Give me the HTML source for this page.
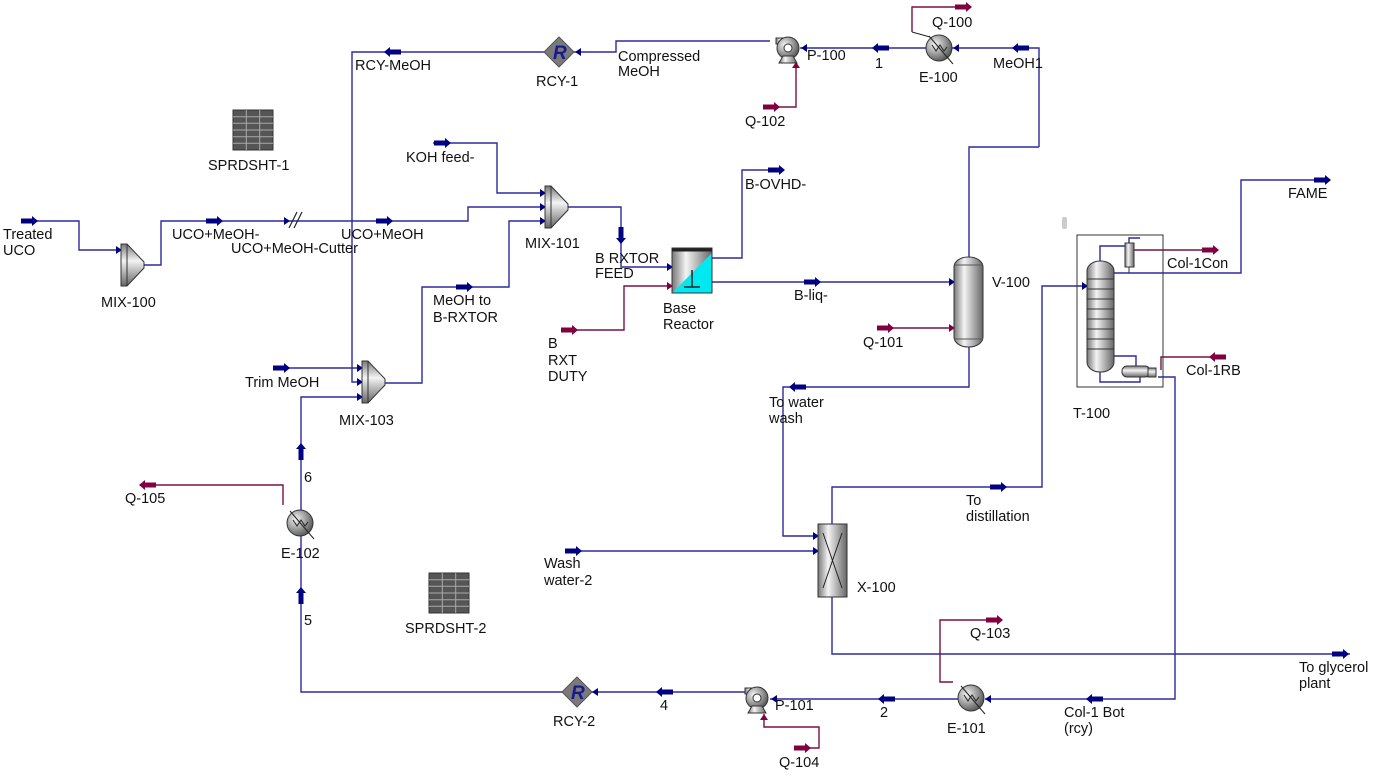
<!DOCTYPE html>
<html><head><meta charset="utf-8"><style>
html,body{margin:0;padding:0;background:#fff;}
svg{display:block;}
text{font-family:"Liberation Sans",sans-serif;font-size:14.5px;fill:#111;}
.s{fill:none;stroke:#2b2ba0;stroke-width:1.4;}
.e{fill:none;stroke:#7a1040;stroke-width:1.4;}
</style></head><body>
<svg width="1388" height="777" viewBox="0 0 1388 777" xmlns="http://www.w3.org/2000/svg">
<defs>
<symbol id="ab" overflow="visible"><path d="M-8,-2.5 H3 V-5 L9,0 L3,5 V2.5 H-8 Z" fill="#000080"/></symbol>
<symbol id="ar" overflow="visible"><path d="M-8,-2.5 H3 V-5 L9,0 L3,5 V2.5 H-8 Z" fill="#800040"/></symbol>
<symbol id="tip" overflow="visible"><path d="M-5,-4 L1,0 L-5,4 Z" fill="#000080"/></symbol>
<symbol id="tipr" overflow="visible"><path d="M-5,-4 L1,0 L-5,4 Z" fill="#800040"/></symbol>
<linearGradient id="gh" x1="0" x2="1" y1="0" y2="0"><stop offset="0" stop-color="#777"/><stop offset="0.35" stop-color="#f4f4f4"/><stop offset="1" stop-color="#666"/></linearGradient>
<linearGradient id="gv" x1="0" x2="0" y1="0" y2="1"><stop offset="0" stop-color="#777"/><stop offset="0.4" stop-color="#f4f4f4"/><stop offset="1" stop-color="#666"/></linearGradient>
<radialGradient id="gr" cx="0.35" cy="0.35" r="0.7"><stop offset="0" stop-color="#f4f4f4"/><stop offset="1" stop-color="#555"/></radialGradient>
<symbol id="mix" overflow="visible"><path d="M0,0 H6 L23,18 V24 L6,42 H0 Z" fill="url(#gv)" stroke="#333" stroke-width="1"/><line x1="6" y1="0" x2="6" y2="42" stroke="#333"/></symbol>
<symbol id="hx" overflow="visible"><circle r="13" fill="url(#gr)" stroke="#333"/><path d="M-7,-3 L-3,3 L1,-3 L5,3 L8,-1" fill="none" stroke="#222"/><line x1="-10" y1="-12" x2="14" y2="16" stroke="#222"/></symbol>
<symbol id="pump" overflow="visible"><path d="M-12,-10 H0 V-4 H-12 Z" fill="url(#gh)" stroke="#333"/><circle r="11" fill="url(#gr)" stroke="#333"/><circle r="4" fill="#fff" stroke="#333"/><path d="M-9,15 L-5,8 H5 L9,15 Z" fill="url(#gh)" stroke="#333"/></symbol>
<symbol id="rcy" overflow="visible"><path d="M0,-15 L15,0 L0,15 L-15,0 Z" fill="#7a7a7a" stroke="#555"/><text x="-6" y="7" style="font-size:19px;font-style:italic;font-weight:bold;fill:#1a1a90">R</text></symbol>
<symbol id="sheet" overflow="visible"><rect width="40" height="40" fill="#555" stroke="#333"/><path d="M0,6.7H40M0,13.3H40M0,20H40M0,26.7H40M0,33.3H40M13.3,0V40M26.7,0V40" stroke="#aaa" stroke-width="1"/></symbol>
</defs>

<!-- ===== streams (blue) ===== -->
<!-- top recycle -->
<polyline class="s" points="1039,147 1039,48 952,48"/>
<polyline class="s" points="926,48 800,48"/>
<polyline class="s" points="770,41 616,41 616,52 574,52"/>
<polyline class="s" points="544,52 352,52 352,382 362,382"/>
<use href="#tip" x="954" y="48" transform="rotate(180 954 48)"/>
<use href="#tip" x="802" y="48" transform="rotate(180 802 48)"/>
<use href="#tip" x="576" y="52" transform="rotate(180 576 52)"/>
<use href="#ab" x="1021" y="48" transform="rotate(180 1021 48)"/>
<use href="#ab" x="881" y="48" transform="rotate(180 881 48)"/>
<use href="#ab" x="393" y="52" transform="rotate(180 393 52)"/>
<polyline class="s" points="1039,147 969,147 969,257"/>

<!-- Treated UCO -->
<polyline class="s" points="22,221 79,221 79,250 121,250"/>
<use href="#ab" x="29" y="221"/><use href="#tip" x="121" y="250"/>
<polyline class="s" points="144,265 161,265 161,221 468,221 468,207 545,207"/>
<use href="#ab" x="214" y="221"/><use href="#ab" x="384" y="221"/><use href="#tip" x="545" y="207"/>
<line x1="289" y1="228" x2="297" y2="212" stroke="#222" stroke-width="1.2"/>
<line x1="294" y1="228" x2="302" y2="212" stroke="#222" stroke-width="1.2"/>
<use href="#tip" x="289" y="221"/>

<!-- KOH feed -->
<polyline class="s" points="433,143 497,143 497,193 545,193"/>
<use href="#ab" x="442" y="143"/><use href="#tip" x="545" y="193"/>
<!-- MeOH to B-RXTOR -->
<polyline class="s" points="384,383 422,383 422,287 509,287 509,221 545,221"/>
<use href="#ab" x="464" y="287"/><use href="#tip" x="545" y="221"/>
<!-- MIX-101 outlet -->
<polyline class="s" points="568,207 621,207 621,267 672,267"/>
<use href="#ab" x="621" y="235" transform="rotate(90 621 235)"/><use href="#tip" x="672" y="267"/>
<!-- Trim MeOH -->
<polyline class="s" points="274,368 362,368"/>
<use href="#ab" x="281" y="368"/><use href="#tip" x="362" y="368"/><use href="#tip" x="362" y="382"/>
<!-- B-OVHD -->
<polyline class="s" points="712,258 742,258 742,170 784,170"/>
<use href="#ab" x="776" y="170"/>
<!-- B-liq -->
<polyline class="s" points="712,282 954,282"/>
<use href="#ab" x="812" y="282"/><use href="#tip" x="954" y="282"/>
<!-- V-100 bottom to water wash -->
<polyline class="s" points="969,347 969,387 783,387 783,536 818,536"/>
<use href="#ab" x="798" y="387" transform="rotate(180 798 387)"/><use href="#tip" x="818" y="536"/>
<!-- Wash water -->
<polyline class="s" points="566,551 818,551"/>
<use href="#ab" x="573" y="551"/><use href="#tip" x="818" y="551"/>
<!-- To distillation -->
<polyline class="s" points="832,524 832,487 1042,487 1042,286 1087,286"/>
<use href="#ab" x="998" y="487"/><use href="#tip" x="1087" y="286"/>
<!-- To glycerol -->
<polyline class="s" points="832,597 832,654 1350,654"/>
<use href="#ab" x="1340" y="654"/>
<!-- FAME -->
<polyline class="s" points="1114,273 1241,273 1241,180 1330,180"/>
<use href="#ab" x="1322" y="180"/>
<!-- Col-1 bot -->
<polyline class="s" points="1158,377 1175,377 1175,699 985,699"/>
<use href="#ab" x="1095" y="699" transform="rotate(180 1095 699)"/><use href="#tip" x="986" y="699" transform="rotate(180 986 699)"/>
<polyline class="s" points="958,699 770,699"/>
<use href="#ab" x="887" y="699" transform="rotate(180 887 699)"/><use href="#tip" x="772" y="699" transform="rotate(180 772 699)"/>
<polyline class="s" points="746,692 591,692"/>
<use href="#ab" x="665" y="692" transform="rotate(180 665 692)"/><use href="#tip" x="593" y="692" transform="rotate(180 593 692)"/>
<polyline class="s" points="562,692 301,692 301,536"/>
<use href="#ab" x="301" y="596" transform="rotate(-90 301 596)"/>
<polyline class="s" points="301,510 301,397 362,397"/>
<use href="#ab" x="301" y="452" transform="rotate(-90 301 452)"/><use href="#tip" x="362" y="397"/>

<!-- ===== energy (red) ===== -->
<polyline class="e" points="912,32 912,7 963,7"/><use href="#ar" x="963" y="7"/>
<line x1="912" y1="32" x2="930" y2="37" stroke="#222"/>
<polyline class="e" points="764,107 796,107 796,62"/><use href="#ar" x="771" y="107"/><use href="#tipr" x="796" y="63" transform="rotate(-90 796 63)"/>
<polyline class="e" points="562,330 624,330 624,286 672,286"/><use href="#ar" x="569" y="330"/><use href="#tipr" x="672" y="286"/>
<polyline class="e" points="878,328 954,328"/><use href="#ar" x="885" y="328"/><use href="#tipr" x="954" y="328"/>
<polyline class="e" points="1134,250 1218,250"/><use href="#ar" x="1210" y="250"/>
<polyline class="e" points="1225,357 1161,357 1161,370"/><use href="#ar" x="1218" y="357" transform="rotate(180 1218 357)"/>
<polyline class="e" points="953,682 940,682 940,620 1002,620"/><use href="#ar" x="994" y="620"/>
<polyline class="e" points="795,748 819,748 819,727 764,727 764,714"/><use href="#ar" x="802" y="748"/><use href="#tipr" x="764" y="715" transform="rotate(-90 764 715)"/>
<polyline class="e" points="283,505 283,485 140,485"/><use href="#ar" x="148" y="485" transform="rotate(180 148 485)"/>

<!-- ===== equipment ===== -->
<use href="#mix" x="121" y="244"/>
<use href="#mix" x="545" y="186"/>
<use href="#mix" x="362" y="361"/>
<use href="#rcy" x="559" y="52"/>
<use href="#rcy" x="577" y="692"/>
<use href="#pump" x="788" y="48"/>
<use href="#pump" x="757" y="698"/>
<use href="#hx" x="939" y="48"/>
<use href="#hx" x="971" y="698"/>
<use href="#hx" x="300" y="523"/>
<use href="#sheet" x="233" y="110"/>
<use href="#sheet" x="429" y="573"/>
<!-- reactor -->
<rect x="672" y="248" width="40" height="45" fill="url(#gh)" stroke="#333"/>
<path d="M672,293 L712,253 V293 Z" fill="#00e8f0"/>
<rect x="672" y="248" width="40" height="45" fill="none" stroke="#333"/>
<line x1="672" y1="250" x2="712" y2="250" stroke="#222" stroke-width="3"/>
<path d="M692,270 V287 M684,287 H700" stroke="#222" stroke-width="1.5"/>
<!-- V-100 -->
<rect x="954" y="257" width="29" height="90" rx="14" ry="10" fill="url(#gh)" stroke="#333"/>
<line x1="954" y1="265" x2="983" y2="265" stroke="#555"/><line x1="954" y1="339" x2="983" y2="339" stroke="#555"/>
<!-- X-100 -->
<rect x="818" y="524" width="29" height="73" fill="url(#gh)" stroke="#333"/>
<path d="M823,533 L842,588 M842,533 L823,588" stroke="#222"/>
<!-- T-100 -->
<rect x="1077" y="235" width="86" height="152" fill="none" stroke="#333"/>
<polyline class="s" points="1100,261 1100,246 1125,246"/>
<polyline class="s" points="1129,243 1129,238 1140,238"/>
<line x1="1129" y1="267" x2="1129" y2="273" stroke="#333"/>
<polyline class="s" points="1110,356 1136,356 1136,366"/>
<polyline class="s" points="1100,372 1100,382 1140,382 1140,377"/>
<rect x="1087" y="261" width="27" height="111" rx="13" ry="10" fill="url(#gh)" stroke="#333"/>
<path d="M1087,279H1114M1087,289H1114M1087,299H1114M1087,309H1114M1087,319H1114M1087,329H1114M1087,339H1114M1087,349H1114" stroke="#333"/>
<rect x="1125" y="243" width="9" height="24" fill="url(#gh)" stroke="#333"/>
<rect x="1122" y="366" width="28" height="11" rx="5" fill="url(#gv)" stroke="#333"/>
<rect x="1148" y="368" width="8" height="9" fill="url(#gv)" stroke="#333"/>
<rect x="1062" y="217" width="5" height="12" rx="2" fill="#ccc"/>

<!-- ===== labels ===== -->
<text x="355" y="70">RCY-MeOH</text>
<text x="536" y="86">RCY-1</text>
<text x="618" y="61">Compressed</text><text x="618" y="76">MeOH</text>
<text x="807" y="60">P-100</text>
<text x="875" y="68">1</text>
<text x="932" y="27">Q-100</text>
<text x="919" y="82">E-100</text>
<text x="993" y="68">MeOH1</text>
<text x="745" y="126">Q-102</text>
<text x="208" y="170">SPRDSHT-1</text>
<text x="406" y="162">KOH feed-</text>
<text x="745" y="189">B-OVHD-</text>
<text x="1288" y="198">FAME</text>
<text x="3" y="239">Treated</text><text x="3" y="255">UCO</text>
<text x="172" y="239">UCO+MeOH-</text>
<text x="231" y="253">UCO+MeOH-Cutter</text>
<text x="341" y="239">UCO+MeOH</text>
<text x="525" y="248">MIX-101</text>
<text x="595" y="263">B RXTOR</text><text x="595" y="278">FEED</text>
<text x="1167" y="268">Col-1Con</text>
<text x="992" y="287">V-100</text>
<text x="101" y="307">MIX-100</text>
<text x="433" y="305">MeOH to</text><text x="433" y="322">B-RXTOR</text>
<text x="663" y="313">Base</text><text x="663" y="329">Reactor</text>
<text x="794" y="300">B-liq-</text>
<text x="863" y="347">Q-101</text>
<text x="548" y="348">B</text><text x="548" y="365">RXT</text><text x="548" y="381">DUTY</text>
<text x="245" y="387">Trim MeOH</text>
<text x="1186" y="375">Col-1RB</text>
<text x="769" y="407">To water</text><text x="769" y="423">wash</text>
<text x="1073" y="418">T-100</text>
<text x="339" y="425">MIX-103</text>
<text x="304" y="482">6</text>
<text x="125" y="503">Q-105</text>
<text x="966" y="505">To</text><text x="966" y="521">distillation</text>
<text x="281" y="558">E-102</text>
<text x="544" y="568">Wash</text><text x="544" y="585">water-2</text>
<text x="857" y="592">X-100</text>
<text x="304" y="625">5</text>
<text x="405" y="633">SPRDSHT-2</text>
<text x="970" y="638">Q-103</text>
<text x="1299" y="672">To glycerol</text><text x="1299" y="688">plant</text>
<text x="775" y="710">P-101</text>
<text x="880" y="717">2</text>
<text x="660" y="710">4</text>
<text x="1064" y="717">Col-1 Bot</text><text x="1064" y="733">(rcy)</text>
<text x="553" y="726">RCY-2</text>
<text x="947" y="733">E-101</text>
<text x="779" y="767">Q-104</text>
</svg>
</body></html>
